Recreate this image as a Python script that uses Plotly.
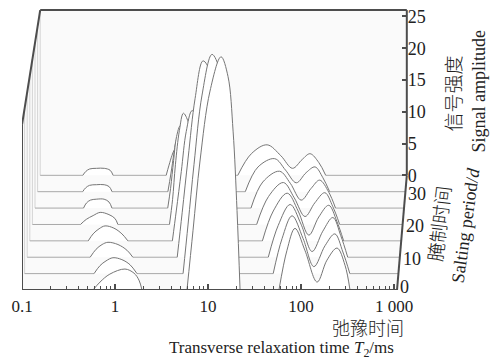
import numpy as np
import plotly.graph_objects as go

# ---------------- data ----------------
SALTING_DAYS = [0, 5, 10, 15, 20, 25, 30, 35]

T2_D0 = [0.58, 0.69, 0.88, 1.28, 1.60, 1.81, 1.95,
         5.94, 6.90, 8.20, 10.5, 13.8, 16.4, 18.6, 20.5, 22.1,
         57.9, 70.6, 86.1, 110, 149, 190, 244, 297, 336]
AMP_D0 = [0, 1.25, 2.5, 3.3, 2.65, 1.55, 0,
          0, 9.4, 20.3, 31.3, 36.7, 33.6, 25.0, 12.5, 0,
          0, 6.25, 9.7, 6.25, 1.25, 4.7, 6.6, 3.9, 0]

T2_D5 = [0.561, 0.650, 0.755, 0.897, 1.12, 1.37, 1.63,
         5.12, 5.80, 6.72, 8.20, 10.5, 12.8, 14.9, 16.8, 19.0,
         48.0, 59.8, 76.7, 101, 132, 174, 222, 271, 322]
AMP_D5 = [0, 1.25, 2.0, 2.5, 2.2, 1.4, 0,
          0, 7.8, 17.2, 28.1, 34.5, 32.0, 25.0, 14.1, 0,
          0, 5.5, 9.1, 5.5, 1.1, 4.4, 6.25, 3.4, 0]

T2_D10 = [0.480, 0.556, 0.646, 0.748, 0.959, 1.20, 1.39,
          4.20, 4.75, 5.51, 6.56, 7.99, 9.75, 11.6, 13.8, 16.4,
          40.6, 52.0, 70.0, 91.8, 121, 158, 203, 247, 294]
AMP_D10 = [0, 1.25, 2.0, 2.35, 2.0, 1.1, 0,
           0, 7.0, 15.6, 25.0, 30.9, 28.9, 21.9, 11.7, 0,
           0, 5.0, 8.3, 5.2, 0.9, 4.1, 6.25, 3.4, 0]

T2_D15 = [0.431, 0.487, 0.565, 0.656, 0.818, 1.0, 1.16,
          3.53, 3.89, 4.41, 4.99, 5.78, 6.88, 7.98, 9.04, 10.2,
          33.5, 44.0, 62.3, 81.8, 107, 137, 176, 215, 255]
AMP_D15 = [0, 1.1, 1.9, 2.35, 2.0, 1.1, 0,
           0, 4.7, 10.9, 17.2, 20.5, 18.75, 14.1, 7.0, 0,
           0, 4.7, 7.5, 4.7, 0.9, 3.75, 5.6, 3.1, 0]

T2_D20 = [0.334, 0.386, 0.459, 0.547, 0.682, 0.792, 0.853,
          3.11, 3.36, 3.61, 3.99, 4.41, 4.99, 5.64, 6.23, 6.71,
          27.7, 37.3, 54.1, 71.0, 93.1, 119, 153, 187, 222]
AMP_D20 = [0, 0.8, 1.4, 1.9, 1.55, 0.95, 0,
           0, 3.9, 9.4, 14.8, 17.5, 16.1, 11.7, 5.9, 0,
           0, 4.4, 6.6, 4.2, 1.25, 3.4, 5.0, 2.8, 0]

T2_D25 = [0.339, 0.365, 0.403, 0.467, 0.569, 0.644, 0.693,
          2.82, 3.03, 3.27, 3.52, 3.89, 4.40, 4.86, 5.24, 5.64,
          22.9, 30.8, 46.9, 61.6, 80.9, 104, 129, 162, 192]
AMP_D25 = [0, 0.8, 1.25, 1.4, 1.4, 0.95, 0,
           0, 3.1, 7.5, 11.25, 13.0, 11.7, 8.1, 4.4, 0,
           0, 4.1, 5.8, 3.9, 1.25, 3.1, 4.4, 2.5, 0]

T2_D30 = [0.312, 0.336, 0.371, 0.441, 0.537, 0.608, 0.655,
          2.68, 2.89, 3.11, 3.27, 3.52, 3.88, 4.19, 4.51, 4.85,
          18.9, 26.1, 39.7, 52.2, 68.5, 87.8, 110, 134, 159]
AMP_D30 = [0, 0.6, 1.0, 1.1, 1.1, 0.8, 0,
           0, 2.8, 5.9, 7.8, 8.9, 8.1, 5.9, 3.1, 0,
           0, 3.9, 5.2, 3.4, 1.4, 3.0, 3.9, 2.2, 0]

T2_D35 = [0.294, 0.317, 0.350, 0.416, 0.507, 0.587, 0.634,
          2.43, 2.61, 2.81, 2.96, 3.18, 3.52, 3.79, 4.08, 4.29,
          14.9, 21.0, 31.3, 44.2, 59.5, 76.2, 92.9, 116, 138]
AMP_D35 = [0, 0.6, 1.0, 1.1, 1.1, 0.8, 0,
           0, 1.6, 3.1, 3.9, 4.4, 3.9, 2.8, 1.4, 0,
           0, 3.4, 4.8, 3.1, 1.1, 2.5, 3.4, 2.0, 0]

X_TICK_VALUES = [0.1, 1, 10, 100, 1000]
X_TICK_LABELS = ["0.1", "1", "10", "100", "1 000"]
AMP_TICKS = [0, 5, 10, 15, 20, 25]
DEPTH_TICKS = [0, 10, 20, 30]

SERIES = {
    0: (T2_D0, AMP_D0), 5: (T2_D5, AMP_D5), 10: (T2_D10, AMP_D10),
    15: (T2_D15, AMP_D15), 20: (T2_D20, AMP_D20), 25: (T2_D25, AMP_D25),
    30: (T2_D30, AMP_D30), 35: (T2_D35, AMP_D35),
}

# ---------------- geometry of the pseudo-3D box ----------------
T2_MIN, T2_MAX = 0.1, 1076.0
AMP_TOP = 26.0
PX_PER_DEC = 93.0
PX_PER_AMP = 6.4
SLICE_DY_PX = 16.5
SHIFT_LEFT_PX = 2.6
SHIFT_RIGHT_PX = 1.4
DAY_STEP = 5
K_BACK = (SALTING_DAYS[-1] - SALTING_DAYS[0]) // DAY_STEP

W, H = 495, 361
ML, MT = 22, 7
X_RANGE = [-1.0, 3.15]
PLOT_W = (X_RANGE[1] - X_RANGE[0]) * PX_PER_DEC
Y_TOP = 44.22
PLOT_H = Y_TOP * PX_PER_AMP
MR = W - ML - PLOT_W
MB = H - MT - PLOT_H

LMIN, LMAX = np.log10(T2_MIN), np.log10(T2_MAX)


def proj(t2, amp, k):
    lg = np.log10(np.asarray(t2, dtype=float))
    rel = (lg - LMIN) / (LMAX - LMIN)
    shift = k * (SHIFT_LEFT_PX + (SHIFT_RIGHT_PX - SHIFT_LEFT_PX) * rel) / PX_PER_DEC
    return lg + shift, np.asarray(amp, dtype=float) + k * SLICE_DY_PX / PX_PER_AMP


def split_peaks(t, a):
    peaks, cur = [], []
    for ti, ai in zip(t, a):
        cur.append((ti, ai))
        if ai == 0 and len(cur) > 1:
            peaks.append(cur)
            cur = []
    return peaks


def px_to_paper(px, py):
    return (px - ML) / PLOT_W, (MT + PLOT_H - py) / PLOT_H


CURVE = "#767676"
BASE = "#a8a8a8"
FRAME = "#4d4d4d"
WALL = "#d4d4d4"
SERIF = "Liberation Serif"
CJK = "Noto Sans CJK SC"

fig = go.Figure()

# slices from back to front so that front fills hide the back ones
for day in sorted(SALTING_DAYS, reverse=True):
    k = (day - SALTING_DAYS[0]) // DAY_STEP
    t2, amp = SERIES[day]
    peaks = split_peaks(t2, amp)
    bx, by = [], []
    edges = [T2_MIN]
    for p in peaks:
        edges += [p[0][0], p[-1][0]]
    edges.append(T2_MAX)
    for i in range(0, len(edges), 2):
        xs, ys = proj([edges[i], edges[i + 1]], [0, 0], k)
        bx += list(xs) + [None]
        by += list(ys) + [None]
    fig.add_trace(go.Scatter(x=bx, y=by, mode="lines",
                             line=dict(color=BASE, width=1),
                             hoverinfo="skip", showlegend=False))
    for p in peaks:
        xs, ys = proj([q[0] for q in p], [q[1] for q in p], k)
        fig.add_trace(go.Scatter(x=xs, y=ys, mode="lines", fill="toself",
                                 fillcolor="white",
                                 line=dict(color=CURVE, width=1, shape="spline"),
                                 hoverinfo="skip", showlegend=False))

# dummy trace so the right amplitude axis is drawn
fig.add_trace(go.Scatter(x=[None], y=[None], yaxis="y2", showlegend=False))

shapes = []
corners = [proj(T2_MIN, 0, 0), proj(T2_MIN, AMP_TOP, 0), proj(T2_MIN, AMP_TOP, K_BACK),
           proj(T2_MAX, AMP_TOP, K_BACK), proj(T2_MAX, 0, K_BACK), proj(T2_MAX, 0, 0)]
path = "M " + " L ".join(f"{float(c[0])},{float(c[1])}" for c in corners) + " Z"
shapes.append(dict(type="path", path=path, xref="x", yref="y",
                   fillcolor="#fafafa", line=dict(width=0), layer="below"))
for k in range(1, K_BACK + 1):
    x0, y0 = proj(T2_MIN, 0, k)
    x1, y1 = proj(T2_MIN, AMP_TOP, k)
    shapes.append(dict(type="line", x0=float(x0), y0=float(y0), x1=float(x1), y1=float(y1),
                       xref="x", yref="y", line=dict(color=WALL, width=1), layer="below"))


def frame_line(a, b, w=2):
    shapes.append(dict(type="line", x0=float(a[0]), y0=float(a[1]), x1=float(b[0]), y1=float(b[1]),
                       xref="x", yref="y", line=dict(color=FRAME, width=w), layer="above"))


frame_line(proj(T2_MIN, 0, 0), proj(T2_MAX, 0, 0))
frame_line(proj(T2_MIN, 0, 0), proj(T2_MIN, AMP_TOP, 0))
frame_line(proj(T2_MIN, AMP_TOP, 0), proj(T2_MIN, AMP_TOP, K_BACK))
frame_line(proj(T2_MIN, AMP_TOP, K_BACK), proj(T2_MAX, AMP_TOP, K_BACK))
frame_line(proj(T2_MAX, 0, K_BACK), proj(T2_MAX, AMP_TOP, K_BACK))
frame_line(proj(T2_MAX, 0, 0), proj(T2_MAX, 0, K_BACK))

annotations = []
for d in DEPTH_TICKS:
    k = (d - SALTING_DAYS[0]) // DAY_STEP
    x, y = proj(T2_MAX, 0, k)
    annotations.append(dict(x=float(x), y=float(y), xref="x", yref="y", text=str(d),
                            showarrow=False, xanchor="left", yanchor="middle",
                            xshift=1, yshift=(3 if k == 0 else -2),
                            font=dict(family=SERIF, size=18, color="#222")))


def label(text, px, py, size, family, angle=0, weight=None):
    xp, yp = px_to_paper(px, py)
    font = dict(family=family, size=size, color="#222")
    if weight is not None:
        font["weight"] = weight
    annotations.append(dict(x=xp, y=yp, xref="paper", yref="paper", text=text,
                            showarrow=False, xanchor="center", yanchor="middle",
                            textangle=angle, font=font))


label("弛豫时间", 368, 327, 18, CJK, weight=300)
label("Transverse relaxation time <i>T</i><sub>2</sub>/ms", 281, 349, 17, SERIF)
label("信号强度", 452, 92, 19, CJK, -90, weight=300)
label("Signal amplitude", 479, 90, 18, SERIF, -90)
label("腌制时间", 438, 223, 19, CJK, -83, weight=300)
label("Salting period/<i>d</i>", 466, 225, 18, SERIF, -82)

minor_vals = [float(np.log10(m * 10.0 ** e)) for e in range(-1, 3) for m in range(2, 10)]

back_right_x, _ = proj(T2_MAX, 0, K_BACK)
pos2 = float((back_right_x - X_RANGE[0]) / (X_RANGE[1] - X_RANGE[0]))
off2 = K_BACK * SLICE_DY_PX / PX_PER_AMP

fig.update_layout(
    width=W, height=H,
    margin=dict(l=ML, r=MR, t=MT, b=MB, pad=0),
    paper_bgcolor="white", plot_bgcolor="white",
    xaxis=dict(range=X_RANGE, showgrid=False, zeroline=False, showline=False,
               tickmode="array", tickvals=[float(np.log10(v)) for v in X_TICK_VALUES],
               ticktext=X_TICK_LABELS, ticks="inside", ticklen=6, tickwidth=1.5,
               tickcolor=FRAME, tickfont=dict(family=SERIF, size=17, color="#222"),
               ticklabelstandoff=4,
               minor=dict(tickmode="array", tickvals=minor_vals, ticks="inside",
                          ticklen=4, tickwidth=1, tickcolor=FRAME),
               fixedrange=True),
    yaxis=dict(range=[0, Y_TOP], visible=False, fixedrange=True),
    yaxis2=dict(range=[-off2, Y_TOP - off2], overlaying="y", side="right",
                anchor="free", position=pos2, showgrid=False, zeroline=False,
                showline=False, tickmode="array", tickvals=AMP_TICKS,
                ticks="inside", ticklen=5, tickwidth=1.5, tickcolor=FRAME,
                tickfont=dict(family=SERIF, size=18, color="#222"), fixedrange=True),
    shapes=shapes, annotations=annotations, showlegend=False,
)

fig.write_html("out.html")
